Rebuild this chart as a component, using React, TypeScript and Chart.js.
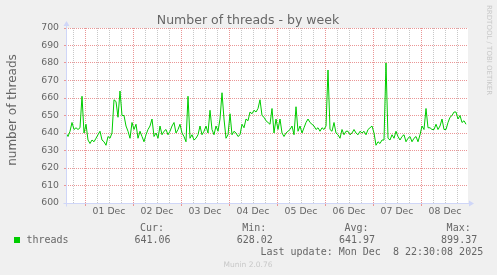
import React, { useEffect, useRef } from 'react';
import { Chart, registerables } from 'chart.js';

Chart.register(...registerables);

const TITLE = 'Number of threads - by week';
const Y_LABEL = 'number of threads';
const DAY_LABELS = ['01 Dec', '02 Dec', '03 Dec', '04 Dec', '05 Dec', '06 Dec', '07 Dec', '08 Dec'];
const Y_MIN = 600;
const Y_MAX = 700;
// time axis in hours relative to 01 Dec 00:00
const X_MIN_HOUR = -9.5;
const X_MAX_HOUR = 191.5;
const START_HOUR = -9.5;
const STEP_HOURS = 1;
const SERIES_NAME = 'threads';
const THREADS = [
  640, 638, 641, 646, 642, 643, 642, 643, 661, 640,
  645, 636, 634, 636, 635, 637, 639, 641, 636, 635,
  633, 638, 637, 640, 659, 658, 649, 664, 650, 650,
  644, 641, 637, 646, 642, 645, 637, 641, 638, 635,
  639, 642, 644, 648, 638, 640, 637, 644, 639, 641,
  642, 639, 641, 644, 646, 640, 642, 645, 640, 638,
  635, 661, 637, 639, 636, 637, 639, 644, 639, 641,
  644, 640, 653, 642, 639, 644, 641, 648, 663, 648,
  637, 639, 651, 639, 641, 640, 638, 639, 645, 643,
  648, 647, 652, 651, 653, 652, 654, 659, 650, 649,
  647, 646, 645, 654, 640, 648, 642, 648, 640, 638,
  640, 641, 642, 644, 639, 655, 641, 644, 640, 643,
  646, 648, 646, 645, 644, 642, 643, 641, 643, 642,
  644, 676, 642, 641, 646, 640, 639, 637, 642, 639,
  641, 641, 639, 640, 642, 640, 639, 641, 640, 641,
  639, 642, 643, 644, 640, 633, 635, 634, 636, 636,
  680, 637, 636, 639, 637, 641, 638, 636, 638, 639,
  635, 637, 638, 635, 637, 638, 635, 639, 644, 642,
  654, 643, 643, 642, 642, 645, 642, 644, 648, 642,
  642, 646, 649, 650, 652, 652, 648, 650, 646, 647,
  645,
];
const LEGEND_HEADERS = ['Cur:', 'Min:', 'Avg:', 'Max:'];
const LEGEND_VALUES = ['641.06', '628.02', '641.97', '899.37'];
const LAST_UPDATE = 'Last update: Mon Dec  8 22:30:08 2025';
const VERSION = 'Munin 2.0.76';
const WATERMARK = 'RRDTOOL / TOBI OETIKER';

const MAJOR = 'rgb(234,150,150)';
const MINOR = 'rgb(200,200,200)';
const AXIS = '#CFD6F8';
const FONT_COLOR = '#666666';
const SANS = '"DejaVu Sans", sans-serif';
const MONO = '"DejaVu Sans Mono", monospace';

const muninPlugin = {
  id: 'muninDecor',
  beforeDraw(chart: any) {
    const { ctx, chartArea: a } = chart;
    ctx.save();
    ctx.fillStyle = '#F0F0F0';
    ctx.fillRect(0, 0, chart.width, chart.height);
    ctx.fillStyle = '#FFFFFF';
    ctx.fillRect(a.left, a.top, a.right - a.left, a.bottom - a.top);
    ctx.restore();
  },
  afterDraw(chart: any) {
    const { ctx, chartArea: a } = chart;
    ctx.save();
    // axes with arrows
    const ax = a.left + 0.5;
    const ay = a.bottom + 0.5;
    ctx.strokeStyle = AXIS;
    ctx.fillStyle = AXIS;
    ctx.lineWidth = 1;
    ctx.beginPath();
    ctx.moveTo(ax, ay + 3);
    ctx.lineTo(ax, a.top - 3);
    ctx.moveTo(ax - 3, ay);
    ctx.lineTo(a.right + 2, ay);
    ctx.stroke();
    ctx.beginPath();
    ctx.moveTo(ax - 3, a.top - 2);
    ctx.lineTo(ax + 3, a.top - 2);
    ctx.lineTo(ax, a.top - 7);
    ctx.closePath();
    ctx.fill();
    ctx.beginPath();
    ctx.moveTo(a.right + 1, ay - 3);
    ctx.lineTo(a.right + 1, ay + 3);
    ctx.lineTo(a.right + 6, ay);
    ctx.closePath();
    ctx.fill();

    // title
    ctx.fillStyle = FONT_COLOR;
    ctx.font = `12.5px ${SANS}`;
    ctx.textAlign = 'center';
    ctx.textBaseline = 'alphabetic';
    ctx.fillText(TITLE, 248, 23.8);

    // y axis label
    ctx.save();
    ctx.translate(15.5, 110);
    ctx.rotate(-Math.PI / 2);
    ctx.font = `12px ${SANS}`;
    ctx.textAlign = 'center';
    ctx.fillText(Y_LABEL, 0, 0);
    ctx.restore();

    // watermark
    ctx.save();
    ctx.translate(486.5, 5);
    ctx.rotate(Math.PI / 2);
    ctx.font = `7px ${SANS}`;
    ctx.fillStyle = '#C8C8C8';
    ctx.textAlign = 'left';
    ctx.fillText(WATERMARK, 0, 0);
    ctx.restore();

    // legend
    const ds = chart.data.datasets[0];
    ctx.fillStyle = ds.borderColor;
    ctx.fillRect(14, 237, 6, 6);
    ctx.fillStyle = FONT_COLOR;
    ctx.font = `10px ${MONO}`;
    ctx.textAlign = 'left';
    ctx.fillText(ds.label, 26.5, 242.7);
    const colEnds = [170.5, 272.8, 375, 477.2];
    ctx.textAlign = 'right';
    LEGEND_HEADERS.forEach((h, i) => ctx.fillText(h, colEnds[i] - 6.5, 231.3));
    LEGEND_VALUES.forEach((v, i) => ctx.fillText(v, colEnds[i], 242.7));
    ctx.fillText(LAST_UPDATE, 483.2, 254.7);

    // version footer
    ctx.fillStyle = '#C8C8C8';
    ctx.font = `7.5px ${SANS}`;
    ctx.textAlign = 'center';
    ctx.fillText(VERSION, 248, 266.7);
    ctx.restore();
  },
};

export default function App() {
  const ref = useRef<HTMLCanvasElement | null>(null);

  useEffect(() => {
    if (!ref.current) return;
    const points = THREADS.map((v, i) => ({ x: START_HOUR + i * STEP_HOURS, y: v }));
    const chart = new Chart(ref.current, {
      type: 'line',
      data: {
        datasets: [
          {
            label: SERIES_NAME,
            data: points,
            borderColor: '#00CC00',
            backgroundColor: '#00CC00',
            borderWidth: 1,
            pointRadius: 0,
            tension: 0,
            fill: false,
          },
        ],
      },
      options: {
        animation: false,
        responsive: false,
        devicePixelRatio: 1,
        layout: { padding: { left: 0, right: 29, top: 28, bottom: 0 } },
        plugins: {
          legend: { display: false },
          title: { display: false },
          tooltip: { enabled: false },
        },
        scales: {
          x: {
            type: 'linear',
            min: X_MIN_HOUR,
            max: X_MAX_HOUR,
            afterFit: (s: any) => {
              s.height = 72;
            },
            afterBuildTicks: (s: any) => {
              const t = [];
              for (let h = Math.ceil(X_MIN_HOUR / 6) * 6; h < X_MAX_HOUR; h += 6) t.push({ value: h });
              s.ticks = t;
            },
            border: { display: false, dash: [1, 1] },
            grid: {
              color: (c: any) => (c.tick && c.tick.value % 24 === 0 ? MAJOR : MINOR),
              tickColor: (c: any) => (c.tick && c.tick.value % 24 === 0 ? MAJOR : 'rgba(0,0,0,0)'),
              tickLength: 3,
              tickBorderDash: [],
              lineWidth: 1,
            },
            ticks: {
              autoSkip: false,
              maxRotation: 0,
              minRotation: 0,
              padding: 0,
              color: FONT_COLOR,
              font: { family: 'DejaVu Sans', size: 9.3 },
              callback: (v: any) => {
                const n = Number(v);
                if (((n % 24) + 24) % 24 === 12) {
                  const d = Math.floor(n / 24);
                  return DAY_LABELS[d] ?? '';
                }
                return '';
              },
            },
          },
          y: {
            type: 'linear',
            min: Y_MIN,
            max: Y_MAX,
            afterFit: (s: any) => {
              s.width = 66;
            },
            afterBuildTicks: (s: any) => {
              const t = [];
              for (let v = Y_MIN; v <= Y_MAX; v += 5) t.push({ value: v });
              s.ticks = t;
            },
            border: { display: false, dash: [1, 1] },
            grid: {
              color: (c: any) => (c.tick && c.tick.value % 10 === 0 ? MAJOR : MINOR),
              tickColor: (c: any) => (c.tick && c.tick.value % 10 === 0 ? MAJOR : MINOR),
              tickLength: 2,
              tickBorderDash: [],
              lineWidth: 1,
            },
            ticks: {
              padding: 5,
              color: FONT_COLOR,
              font: { family: 'DejaVu Sans', size: 9.3 },
              callback: (v: any) => (Number(v) % 10 === 0 ? String(v) : ''),
            },
          },
        },
      },
      plugins: [muninPlugin],
    });
    return () => chart.destroy();
  }, []);

  return (
    <div style={{ position: 'fixed', left: 0, top: 0, width: 497, height: 275 }}>
      <canvas ref={ref} width={497} height={275} style={{ display: 'block', width: 497, height: 275 }} />
    </div>
  );
}
